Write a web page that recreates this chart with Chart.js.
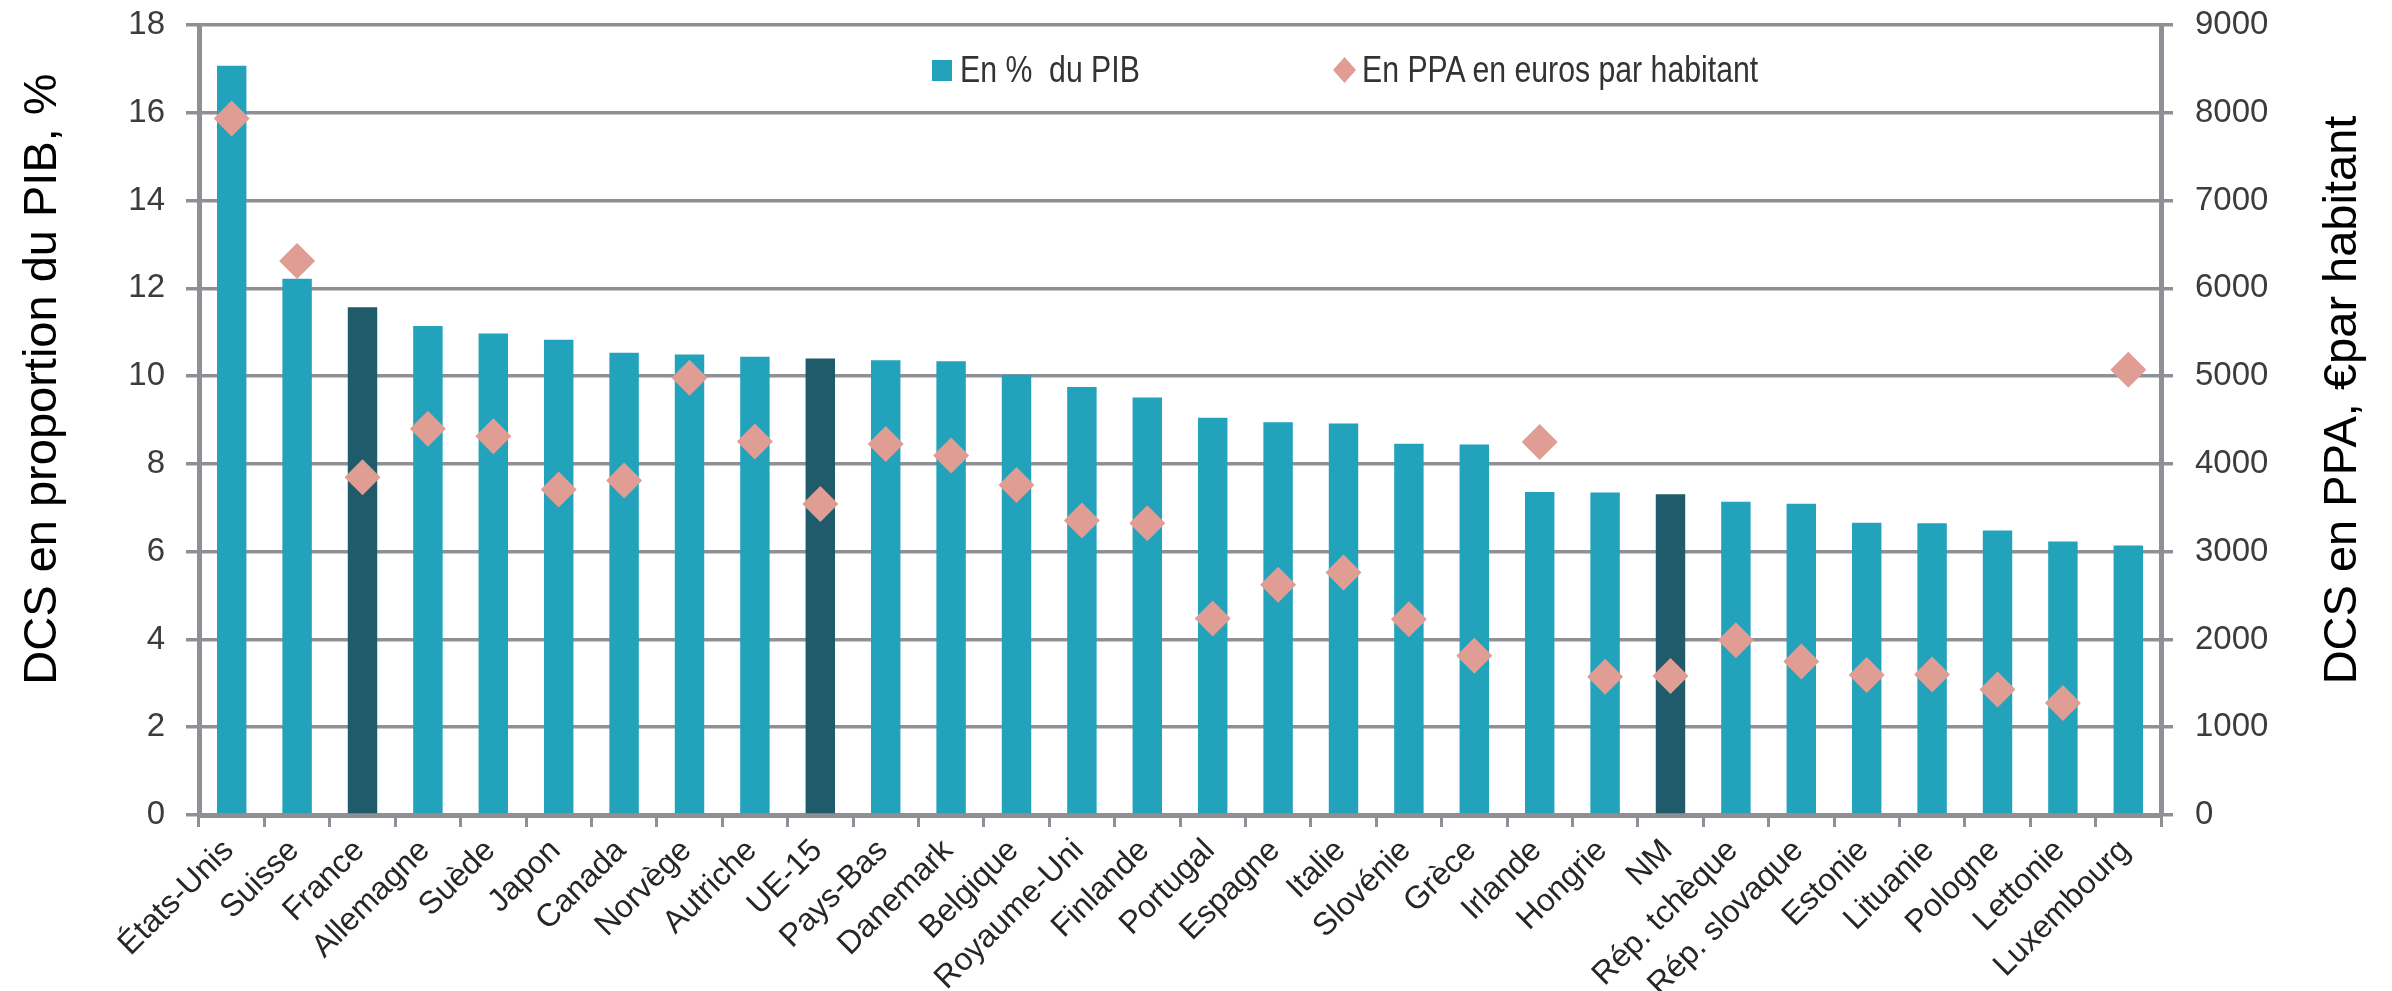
<!DOCTYPE html>
<html lang="fr">
<head>
    <meta charset="UTF-8">
    <title>DCS en proportion du PIB</title>
    <style>
        body { margin: 0; background: #fff; }
        #wrap { position: relative; width: 2392px; height: 991px; }
        .legend {
            position: absolute; top: 48px; height: 44px;
            display: flex; align-items: center; white-space: pre;
        }
        .legend .txt {
            font: 36px 'Liberation Sans', Arial, sans-serif; color: #333;
            display: inline-block; transform: scaleX(0.84); transform-origin: left center;
        }
        .sq { width: 20px; height: 21px; background: #22a2bb; margin-right: 8px; }
        .dm { width: 23px; height: 26px; background: #e09d94; margin-right: 6px;
              clip-path: polygon(50% 0, 100% 50%, 50% 100%, 0 50%); }
    </style>
</head>
<body>
<div id="wrap">
    <canvas id="chart"></canvas>
    <div class="legend" style="left:932px"><span class="sq"></span><span class="txt">En %  du PIB</span></div>
    <div class="legend" style="left:1333px"><span class="dm"></span><span class="txt">En PPA en euros par habitant</span></div>
</div>

<script src="https://cdn.jsdelivr.net/npm/chart.js"></script>
<script>
    const pays = ['États-Unis', 'Suisse', 'France', 'Allemagne', 'Suède', 'Japon', 'Canada', 'Norvège',
        'Autriche', 'UE-15', 'Pays-Bas', 'Danemark', 'Belgique', 'Royaume-Uni', 'Finlande', 'Portugal',
        'Espagne', 'Italie', 'Slovénie', 'Grèce', 'Irlande', 'Hongrie', 'NM', 'Rép. tchèque',
        'Rép. slovaque', 'Estonie', 'Lituanie', 'Pologne', 'Lettonie', 'Luxembourg'];

    // DCS en % du PIB (axe gauche)
    const pctPib = [17.07, 12.22, 11.57, 11.14, 10.97, 10.83, 10.53, 10.49, 10.44, 10.40,
        10.36, 10.34, 10.03, 9.75, 9.51, 9.05, 8.95, 8.92, 8.46, 8.44,
        7.36, 7.35, 7.31, 7.14, 7.09, 6.66, 6.65, 6.48, 6.23, 6.14];

    // DCS en PPA, euros par habitant (axe droit)
    const ppaEuros = [7935, 6312, 3848, 4399, 4316, 3707, 3810, 4981, 4255, 3544,
        4228, 4095, 3760, 3354, 3323, 2239, 2624, 2763, 2230, 1815,
        4250, 1574, 1583, 1990, 1749, 1596, 1600, 1430, 1277, 5072];

    const agregats = ['France', 'UE-15', 'NM'];

    const titreGauche = 'DCS en proportion du PIB, %';
    const titreDroite = 'DCS en PPA, €par habitant';

    const GRIS = '#8e9095';
    const police = "'Liberation Sans', Arial, sans-serif";

    // titres d'axes (lus de bas en haut des deux côtés)
    const axisTitles = {
        id: 'axisTitles',
        afterDraw(chart) {
            const ctx = chart.ctx;
            const a = chart.chartArea;
            ctx.save();
            ctx.font = '47px ' + police;
            ctx.fillStyle = '#000';
            ctx.textAlign = 'center';
            ctx.textBaseline = 'middle';
            [[titreGauche, a.left - 156, 379], [titreDroite, a.right + 182, 400]].forEach(([t, x, y]) => {
                ctx.save();
                ctx.translate(x, y);
                ctx.rotate(-Math.PI / 2);
                ctx.fillText(t, 0, 0);
                ctx.restore();
            });
            ctx.restore();
        }
    };

    // largeur fixe des axes verticaux, sans marge haute/basse ajoutée par les étiquettes
    const fixeAxe = largeur => s => {
        s.width = largeur;
        s.paddingTop = 0;
        s.paddingBottom = 0;
    };

    new Chart(document.getElementById('chart'), {
        data: {
            labels: pays,
            datasets: [{
                type: 'line',
                label: 'En PPA en euros par habitant',
                data: ppaEuros,
                yAxisID: 'y2',
                showLine: false,
                pointStyle: 'rectRot',
                pointRadius: 18,
                pointBorderWidth: 0,
                pointBackgroundColor: '#e09d94',
                order: 0
            }, {
                type: 'bar',
                label: 'En %  du PIB',
                data: pctPib,
                yAxisID: 'y',
                backgroundColor: pays.map(p => agregats.includes(p) ? '#1f5b6a' : '#22a2bb'),
                barPercentage: 0.45,
                categoryPercentage: 1,
                order: 1
            }]
        },
        options: {
            responsive: true,
            maintainAspectRatio: false,
            animation: false,
            layout: { padding: { top: 25, left: 0, right: 0, bottom: 0 } },
            plugins: {
                legend: { display: false },
                tooltip: { enabled: false }
            },
            scales: {
                x: {
                    grid: { drawOnChartArea: false, color: GRIS, lineWidth: 3, tickLength: 12 },
                    border: { color: GRIS, width: 5 },
                    ticks: {
                        maxRotation: 45, minRotation: 45, autoSkip: false, padding: 5, labelOffset: -3,
                        color: '#262626', font: { size: 32, family: police }
                    },
                    afterFit(s) { s.height = 176; }
                },
                y: {
                    position: 'left',
                    min: 0, max: 18,
                    ticks: { stepSize: 2, padding: 21, color: '#3c3c3c', font: { size: 33, family: police } },
                    grid: { color: GRIS, lineWidth: 3.5, tickLength: 13 },
                    border: { color: GRIS, width: 5 },
                    afterFit: fixeAxe(199)
                },
                y2: {
                    position: 'right',
                    min: 0, max: 9000,
                    ticks: {
                        stepSize: 1000, padding: 22, color: '#3c3c3c', font: { size: 33, family: police },
                        callback: v => String(v)
                    },
                    grid: { drawOnChartArea: false, color: GRIS, lineWidth: 3.5, tickLength: 12 },
                    border: { color: GRIS, width: 5 },
                    afterFit: fixeAxe(231)
                }
            }
        },
        plugins: [axisTitles]
    });
</script>
</body>
</html>
